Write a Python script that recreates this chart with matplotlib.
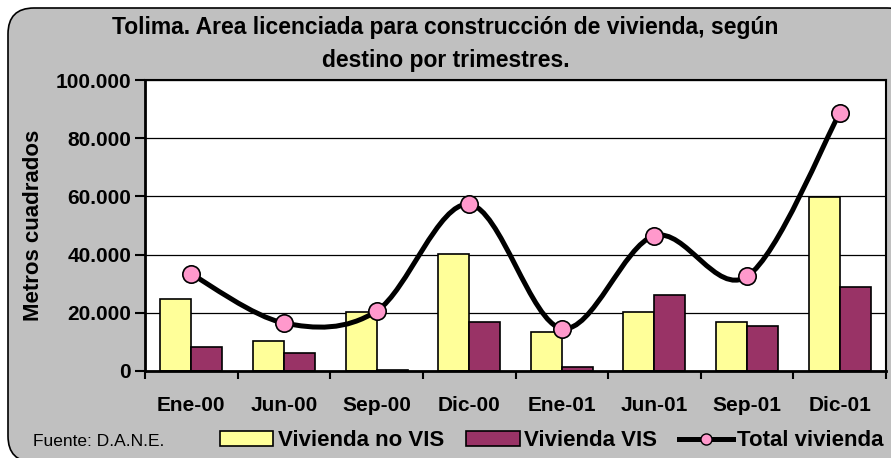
import numpy as np
import matplotlib.pyplot as plt
from matplotlib.patches import FancyBboxPatch, Patch
from matplotlib.path import Path
from matplotlib.patches import PathPatch
from matplotlib.lines import Line2D
from matplotlib.ticker import FuncFormatter, FixedLocator

plt.rcParams['font.family'] = ['Liberation Sans', 'DejaVu Sans']

trimestres = ['Ene-00', 'Jun-00', 'Sep-00', 'Dic-00', 'Ene-01', 'Jun-01', 'Sep-01', 'Dic-01']
no_vis = [24800, 10200, 20200, 40200, 13400, 20200, 16700, 59700]
vis = [8200, 6200, 400, 16800, 1300, 26100, 15500, 28800]
total = [33300, 16500, 20600, 57300, 14600, 46500, 32500, 88600]

yellow = '#FFFF99'
purple = '#993366'
pink = '#FF99CC'
gray = '#C0C0C0'

fig = plt.figure(figsize=(8.91, 4.58), dpi=100)
fig.patch.set_facecolor('white')

# rounded gray frame, in pixels
frame = FancyBboxPatch((8, -4), 905, 454, boxstyle='round,pad=0,rounding_size=26',
                       transform=None, facecolor=gray, edgecolor='black', linewidth=1.2,
                       zorder=-5)
fig.patches.append(frame)

ax = fig.add_axes([145/891, 1-371/458, (886-145)/891, (371-80)/458])
ax.set_facecolor('white')

x = np.arange(len(trimestres))
w = 0.335
ax.bar(x - w/2, no_vis, w, color=yellow, edgecolor='black', linewidth=1.2, zorder=2)
ax.bar(x + w/2, vis, w, color=purple, edgecolor='black', linewidth=1.2, zorder=2)

# smoothed line like excel (catmull-rom bezier)
pts = np.column_stack([x, total]).astype(float)
n = len(pts)
verts = [pts[0]]
codes = [Path.MOVETO]
for i in range(n - 1):
    p0 = pts[max(i-1, 0)]
    p1 = pts[i]
    p2 = pts[i+1]
    p3 = pts[min(i+2, n-1)]
    c1 = p1 + (p2 - p0) / 6
    c2 = p2 - (p3 - p1) / 6
    verts += [c1, c2, p2]
    codes += [Path.CURVE4] * 3
ax.add_patch(PathPatch(Path(verts, codes), facecolor='none', edgecolor='black',
                       linewidth=3.6, zorder=3, capstyle='round'))
ax.plot(x, total, 'o', markersize=12.5, markerfacecolor=pink, markeredgecolor='black',
        markeredgewidth=1.2, zorder=4, clip_on=False)

ax.set_xlim(-0.5, 7.5)
ax.set_ylim(0, 100000)
ax.set_yticks(np.arange(0, 100001, 20000))
ax.yaxis.set_major_formatter(FuncFormatter(lambda v, p: f'{v:,.0f}'.replace(',', '.')))
ax.grid(axis='y', color='black', linewidth=0.9, zorder=1)

ax.xaxis.set_major_locator(FixedLocator(np.arange(-0.5, 8, 1)))
ax.xaxis.set_minor_locator(FixedLocator(x))
ax.set_xticklabels([])
ax.set_xticklabels(trimestres, minor=True)
ax.tick_params(axis='x', which='minor', length=0, pad=18, labelsize=15)
ax.tick_params(axis='x', which='major', length=6, width=1.5, direction='out')
ax.tick_params(axis='y', length=7, width=1.5, pad=3, labelsize=15)
for lab in ax.get_xticklabels(minor=True) + ax.get_yticklabels():
    lab.set_fontweight('bold')

for s in ['left', 'bottom']:
    ax.spines[s].set_linewidth(2)
for s in ['top', 'right']:
    ax.spines[s].set_linewidth(1.5)

ax.set_ylabel('Metros cuadrados', fontsize=16, fontweight='bold', labelpad=8)

fig.text(0.5, 1-44/458, 'Tolima. Area licenciada para construcción de vivienda, según\ndestino por trimestres.',
         ha='center', va='center', fontsize=16.5, fontweight='bold', linespacing=1.6)
fig.text(33/891, 1-442/458, 'Fuente: D.A.N.E.', ha='left', va='center', fontsize=12.5)

handles = [Patch(facecolor=yellow, edgecolor='black', linewidth=1.2),
           Patch(facecolor=purple, edgecolor='black', linewidth=1.2),
           Line2D([], [], color='black', linewidth=3.6, marker='o', markersize=8,
                  markerfacecolor=pink, markeredgecolor='black')]
fig.legend(handles, ['Vivienda no VIS', 'Vivienda VIS', 'Total vivienda'],
           loc='center left', bbox_to_anchor=(220/891, 1-441/458), ncol=3, frameon=False,
           prop={'weight': 'bold', 'size': 16}, handlelength=2.4, handleheight=0.65,
           handletextpad=0.2, columnspacing=1.0, borderaxespad=0, borderpad=0)

fig.savefig('out.png', dpi=100)
